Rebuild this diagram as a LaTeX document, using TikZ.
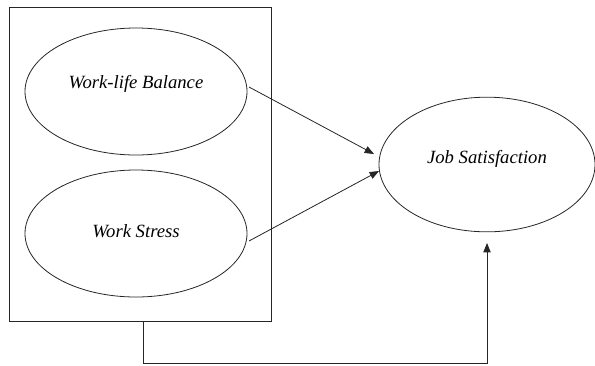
\documentclass[tikz,border=0pt]{standalone}
\usepackage{fontspec}
\setmainfont{Liberation Serif}
\usetikzlibrary{shapes.geometric,arrows.meta}

\tikzset{
  construct/.style={draw=black!85, line width=0.6pt, ellipse, inner sep=0pt},
  link/.style={->, line width=0.6pt, draw=black!85},
}

\begin{document}
\begin{tikzpicture}[x=0.75pt, y=-0.75pt, >={Triangle[length=7pt,width=5.5pt]},
    font=\fontsize{14}{16}\selectfont\itshape]

  \useasboundingbox (0,0) rectangle (595,365);

  % --- 1. 外枠 ---
  \node[draw=black!85, line width=0.6pt, minimum width=197pt, minimum height=235.5pt,
    inner sep=0pt] (frame) at (140.5,164) {};

  % --- 2. 構成概念 ---
  \node[construct, minimum width=166.5pt, minimum height=95.25pt,
    label={[yshift=6pt]center:Work-life Balance}] (wlb) at (136,91.5) {};
  \node[construct, minimum width=166.5pt, minimum height=95.25pt,
    label={[yshift=2pt]center:Work Stress}] (ws) at (136,233.5) {};
  \node[construct, minimum width=162pt, minimum height=101pt,
    label={[yshift=4pt]center:Job Satisfaction}] (js) at (487,164.5) {};

  % --- 3. 矢印 ---
  \coordinate (wlbOut) at (249,87);
  \coordinate (wlbIn) at (374,154);
  \draw[link] (wlbOut) -- (wlbIn);

  \coordinate (wsOut) at (249,241);
  \coordinate (wsIn) at (379,171);
  \draw[link] (wsOut) -- (wsIn);

  % 外枠 -> Job Satisfaction
  \coordinate (frameOut) at (143,321);
  \coordinate (jsIn) at (487,243);
  \draw[link] (frameOut) -- (143,363) -| (jsIn);

\end{tikzpicture}
\end{document}
